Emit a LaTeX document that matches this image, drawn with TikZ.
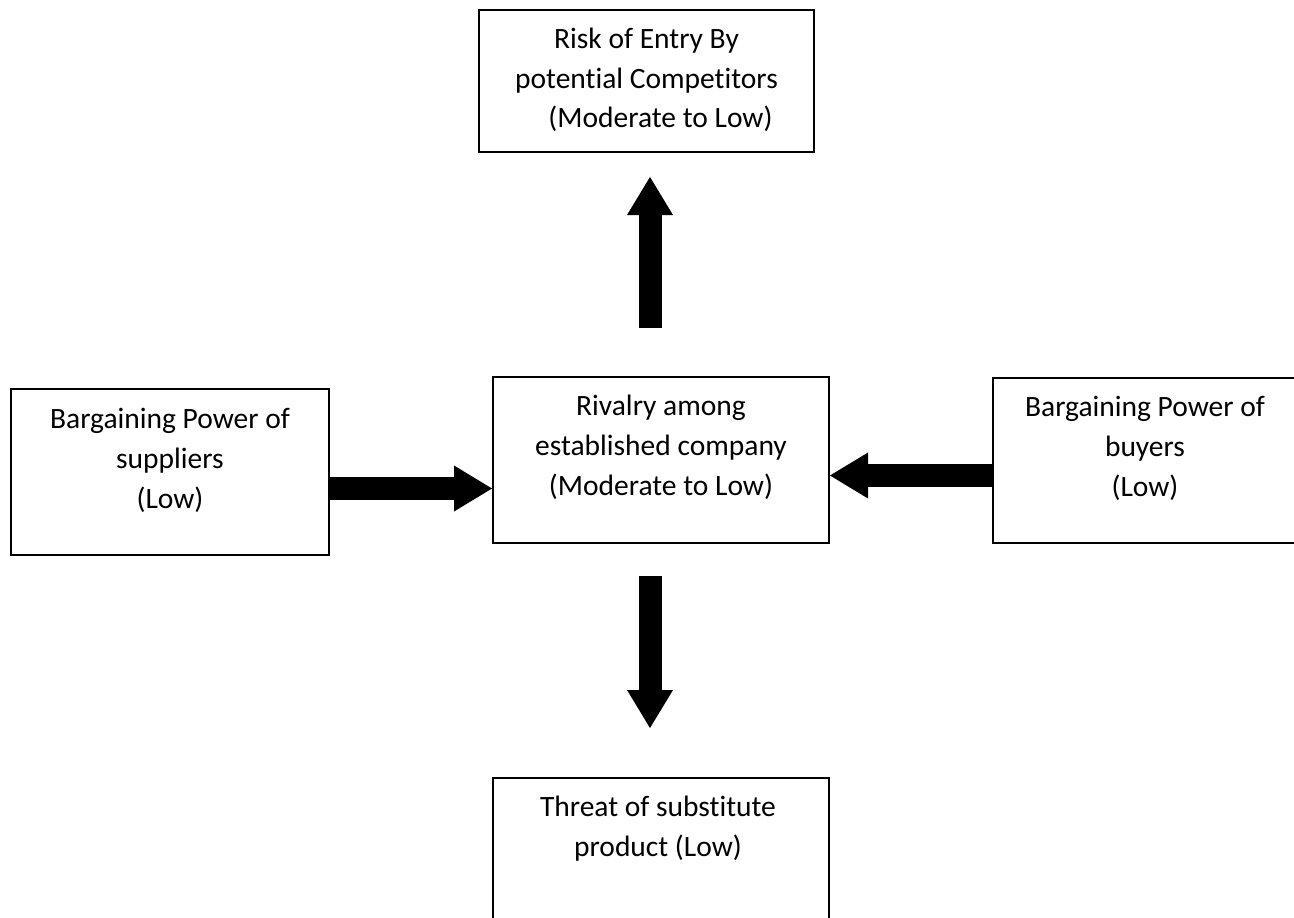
\documentclass[tikz,border=0pt]{standalone}
\usepackage{fontspec}
\setmainfont{Carlito}[Ligatures=CommonOff]
\usetikzlibrary{arrows.meta}
\begin{document}
\begin{tikzpicture}[x=1pt,y=-1pt,
  box/.style={draw, line width=1.5pt, inner sep=0pt, outer sep=0pt, anchor=north west},
  txt/.style={inner sep=0pt, anchor=base, font=\fontsize{29.5}{40}\selectfont},
  blockarrow/.style={line width=23pt, -{Triangle[width=46pt,length=38pt,line width=0pt]}}]
\useasboundingbox (0,0) rectangle (1294,918);
\clip (0,0) rectangle (1294,918);
% boxes
\node[box, minimum width=335pt, minimum height=142pt] (risk) at (479,10) {};
\node[box, minimum width=336pt, minimum height=166pt] (riv) at (493,377) {};
\node[box, minimum width=318pt, minimum height=166pt] (sup) at (11,389) {};
\node[box, minimum width=320pt, minimum height=165pt] (buy) at (993,378) {};
\node[box, minimum width=336pt, minimum height=170pt] (sub) at (493,778) {};
% texts
\node[txt] (risktxt) at (646.5,48) {\begin{tabular}[t]{@{}c@{}}Risk of Entry By\\potential Competitors\\\hspace*{28pt}(Moderate to Low)\end{tabular}};
\node[txt] (rivtxt) at (661,415) {\begin{tabular}[t]{@{}c@{}}Rivalry among\\established company\\(Moderate to Low)\end{tabular}};
\node[txt] (suptxt) at (170,428) {\begin{tabular}[t]{@{}c@{}}Bargaining Power of\\suppliers\\(Low)\end{tabular}};
\node[txt] (buytxt) at (1145,416) {\begin{tabular}[t]{@{}c@{}}Bargaining Power of\\buyers\\(Low)\end{tabular}};
\node[txt] (subtxt) at (658,816) {\begin{tabular}[t]{@{}c@{}}Threat of substitute\\product (Low)\end{tabular}};
% arrow coordinates
\coordinate (upS) at (650,328);
\coordinate (upE) at (650,177);
\coordinate (dnS) at (650,576);
\coordinate (dnE) at (650,728);
\coordinate (la) at (0,488.5);
\coordinate (ra) at (0,475.5);
% arrows
\draw[blockarrow] (upS) -- (upE);
\draw[blockarrow] (dnS) -- (dnE);
\draw[blockarrow] (sup.east |- la) -- ([xshift=-1pt]riv.west |- la);
\draw[blockarrow] (buy.west |- ra) -- ([xshift=1pt]riv.east |- ra);
\end{tikzpicture}
\end{document}
